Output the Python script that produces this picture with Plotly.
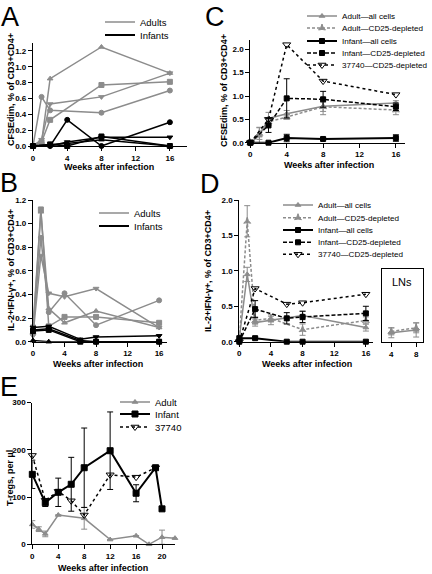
import plotly.graph_objects as go

W, H = 432, 574
GRAY = "#8c8c8c"
BLACK = "#000000"
FONT = "Liberation Sans"

# ---------------- Panel A data (CFSEdim) ----------------
a_adult_weeks = [0, 1, 2, 8, 16]
a_adult_1 = [0, 0.05, 0.85, 1.25, 0.92]
a_adult_2 = [0, 0.62, 0.45, 0.42, 0.70]
a_adult_3 = [0, 0.05, 0.33, 0.77, 0.81]
a_adult_4 = [0, 0.08, 0.53, 0.62, 0.92]
a_infant_weeks = [0, 2, 4, 8, 16]
a_infant_1 = [0, 0.0, 0.33, 0.0, 0.30]
a_infant_2 = [0, 0.02, 0.0, 0.12, 0.0]
a_infant_3 = [0, 0.0, 0.05, 0.11, 0.11]
a_infant_4 = [0, 0.02, 0.03, 0.08, 0.0]

# ---------------- Panel B data (IL-2+IFN-g+) ----------------
b_adult_weeks = [0, 1, 2, 4, 8, 16]
b_adult_1 = [0.10, 0.88, 0.25, 0.41, 0.14, 0.35]
b_adult_2 = [0.05, 0.73, 0.41, 0.38, 0.45, 0.12]
b_adult_3 = [0.12, 1.12, 0.13, 0.21, 0.21, 0.16]
b_adult_4 = [0.08, 1.10, 0.28, 0.16, 0.26, 0.12]
b_infant_weeks = [0, 2, 6, 8, 16]
b_infant_1 = [0.12, 0.13, 0.02, 0.04, 0.05]
b_infant_2 = [0.09, 0.10, 0.0, 0.0, 0.0]
b_infant_3 = [0.10, 0.11, 0.01, 0.0, 0.0]
b_infant_4 = [0.01, 0.0, 0.0, 0.0, 0.0]

# ---------------- Panel C data ----------------
c_adult_weeks = [0, 1, 2, 4, 8, 16]
c_adult_all = [0, 0.15, 0.52, 0.62, 0.78, 0.85]
c_adult_all_err = [0, 0.17, 0.13, 0.07, 0.18, 0.05]
c_adult_dep = [0, 0.20, 0.45, 0.55, 0.77, 0.70]
c_adult_dep_err = [0, 0.13, 0.08, 0.05, 0.1, 0.1]
c_infant_weeks = [0, 2, 4, 8, 16]
c_infant_all = [0, 0.0, 0.10, 0.08, 0.10]
c_infant_all_err = [0, 0, 0.08, 0.03, 0.07]
c_infant_dep = [0, 0.37, 0.95, 0.93, 0.77]
c_infant_dep_err = [0, 0.15, 0.42, 0.17, 0.08]
c_37740 = [0, 0.50, 2.10, 1.32, 1.03]

# ---------------- Panel D data ----------------
d_adult_weeks = [0, 1, 2, 4, 8, 16]
d_adult_all = [0.05, 0.95, 0.27, 0.30, 0.37, 0.20]
d_adult_all_err = [0, 0.1, 0.05, 0.06, 0.06, 0.05]
d_adult_dep = [0.05, 1.70, 0.30, 0.33, 0.17, 0.30]
d_adult_dep_err = [0, 0.22, 0.05, 0.05, 0.08, 0.05]
d_infant_weeks = [0, 2, 6, 8, 16]
d_infant_all = [0.05, 0.05, 0.0, 0.0, 0.0]
d_infant_all_err = [0, 0.02, 0, 0, 0]
d_infant_dep = [0.0, 0.46, 0.33, 0.35, 0.40]
d_infant_dep_err = [0, 0.12, 0.08, 0.08, 0.1]
d_37740 = [0.0, 0.75, 0.53, 0.55, 0.67]
# LN inset
d_ln_weeks = [4, 8]
d_ln_adult_all = [0.13, 0.17]
d_ln_adult_all_err = [0.07, 0.1]
d_ln_adult_dep = [0.15, 0.20]
d_ln_adult_dep_err = [0.05, 0.07]

# ---------------- Panel E data (T-regs per ul) ----------------
e_adult_weeks = [0, 1, 2, 4, 8, 12, 16, 18, 20, 22]
e_adult = [42, 32, 22, 62, 55, 10, 18, 0, 15, 13]
e_adult_err = [8, 5, 6, 0, 23, 0, 0, 0, 15, 0]
e_infant_weeks = [0, 2, 4, 6, 8, 12, 16, 19, 20]
e_infant = [148, 88, 110, 127, 162, 198, 108, 162, 75]
e_infant_err = [30, 8, 30, 57, 84, 82, 18, 0, 0]
e_37740_weeks = [0, 2, 4, 6, 8, 12, 16, 19]
e_37740 = [188, 93, 112, 92, 62, 147, 142, 162]

week_ticks = [0, 4, 8, 12, 16]
e_week_ticks = [0, 4, 8, 12, 16, 20]


def fx(px):
    return px / W


def fy(py):
    return 1 - py / H


fig = go.Figure()


def line(x, y, axis, color, symbol, dash="solid", width=1.5, size=5, err=None,
         name=None, legend=None, mode="lines+markers"):
    xa, ya = axis
    kw = {}
    if err is not None:
        kw["error_y"] = dict(type="data", array=err, visible=True, thickness=1,
                             width=3, color=color)
    fig.add_trace(go.Scatter(
        x=x, y=y, mode=mode, xaxis=xa, yaxis=ya,
        line=dict(color=color, width=width, dash=dash),
        marker=dict(symbol=symbol, size=size, color=color,
                    line=dict(color=color, width=1)),
        cliponaxis=False, name=name or "",
        showlegend=legend is not None, legend=legend or "legend", **kw))


def legend_only(name, color, legend, dash="solid", width=1.5):
    fig.add_trace(go.Scatter(x=[None], y=[None], mode="lines", name=name,
                             line=dict(color=color, width=width, dash=dash),
                             legend=legend, showlegend=True))


AX_A = ("x", "y")
AX_B = ("x2", "y2")
AX_C = ("x3", "y3")
AX_D = ("x4", "y4")
AX_L = ("x5", "y5")
AX_E = ("x6", "y6")

# A
for ys, sym in [(a_adult_1, "triangle-up"), (a_adult_2, "circle"),
                (a_adult_3, "square"), (a_adult_4, "triangle-down")]:
    line(a_adult_weeks, ys, AX_A, GRAY, sym)
for ys, sym in [(a_infant_1, "circle"), (a_infant_2, "square"),
                (a_infant_3, "triangle-down"), (a_infant_4, "triangle-up")]:
    line(a_infant_weeks, ys, AX_A, BLACK, sym)
legend_only("Adults", GRAY, "legend")
legend_only("Infants", BLACK, "legend2", width=2)

# B
for ys, sym in [(b_adult_1, "circle"), (b_adult_2, "triangle-down"),
                (b_adult_3, "square"), (b_adult_4, "triangle-up")]:
    line(b_adult_weeks, ys, AX_B, GRAY, sym)
for ys, sym in [(b_infant_1, "triangle-down"), (b_infant_2, "square"),
                (b_infant_3, "circle"), (b_infant_4, "triangle-up")]:
    line(b_infant_weeks, ys, AX_B, BLACK, sym)
legend_only("Adults", GRAY, "legend3")
legend_only("Infants", BLACK, "legend4", width=2)

# C
line(c_adult_weeks, c_adult_all, AX_C, GRAY, "triangle-up", err=c_adult_all_err,
     name="Adult\u2014all cells", legend="legend5")
line(c_adult_weeks, c_adult_dep, AX_C, GRAY, "star-triangle-up", dash="3px,2px",
     err=c_adult_dep_err, name="Adult\u2014CD25-depleted", legend="legend6")
line(c_infant_weeks, c_infant_all, AX_C, BLACK, "square", width=2,
     err=c_infant_all_err, name="Infant\u2014all cells", legend="legend7")
line(c_infant_weeks, c_infant_dep, AX_C, BLACK, "square", dash="4px,2px",
     err=c_infant_dep_err, name="Infant\u2014CD25-depleted", legend="legend8")
line(c_infant_weeks, c_37740, AX_C, BLACK, "triangle-down-open", dash="dot",
     size=7, name="37740\u2014CD25-depleted", legend="legend9")

# D
line(d_adult_weeks, d_adult_all, AX_D, GRAY, "triangle-up", err=d_adult_all_err,
     name="Adult\u2014all cells", legend="legend10")
line(d_adult_weeks, d_adult_dep, AX_D, GRAY, "star-triangle-up", dash="3px,2px",
     err=d_adult_dep_err, name="Adult\u2014CD25-depleted", legend="legend11")
line(d_infant_weeks, d_infant_all, AX_D, BLACK, "square", width=2,
     err=d_infant_all_err, name="Infant\u2014all cells", legend="legend12")
line(d_infant_weeks, d_infant_dep, AX_D, BLACK, "square", dash="4px,2px",
     err=d_infant_dep_err, name="Infant\u2014CD25-depleted", legend="legend13")
line(d_infant_weeks, d_37740, AX_D, BLACK, "triangle-down-open", dash="dot",
     size=7, name="37740\u2014CD25-depleted", legend="legend14")
line(d_ln_weeks, d_ln_adult_all, AX_L, GRAY, "triangle-up", err=d_ln_adult_all_err)
line(d_ln_weeks, d_ln_adult_dep, AX_L, GRAY, "star-triangle-up", dash="3px,2px",
     err=d_ln_adult_dep_err)

# E
line(e_adult_weeks, e_adult, AX_E, GRAY, "triangle-up", err=e_adult_err,
     name="Adult", legend="legend15")
line(e_infant_weeks, e_infant, AX_E, BLACK, "square", width=2, size=6,
     err=e_infant_err, name="Infant", legend="legend16")
line(e_37740_weeks, e_37740, AX_E, BLACK, "triangle-down-open", dash="dot",
     size=7, name="37740", legend="legend17")

tickfont = dict(family=FONT, size=8, color="black", weight="bold")


def axis(dom, rng, tickvals, fmt=None, **kw):
    d = dict(domain=dom, range=rng, tickvals=tickvals, ticks="outside",
             ticklen=4, tickwidth=1, tickcolor="black", showline=True,
             linecolor="black", linewidth=1.2, showgrid=False, zeroline=False,
             tickfont=tickfont, fixedrange=True, automargin=False)
    if fmt:
        d["tickformat"] = fmt
    d.update(kw)
    return d


layout = dict(
    width=W, height=H, margin=dict(l=0, r=0, t=0, b=0, autoexpand=False),
    paper_bgcolor="white", plot_bgcolor="white",
    font=dict(family=FONT, color="black"),
    xaxis=axis([fx(33), fx(187)], [0, 18], week_ticks, anchor="y"),
    yaxis=axis([fy(146), fy(43)], [0, 1.3], [0, 0.2, 0.4, 0.6, 0.8, 1.0, 1.2],
               ".1f", anchor="x"),
    xaxis2=axis([fx(33), fx(167)], [0, 17], week_ticks, anchor="y2"),
    yaxis2=axis([fy(341.7), fy(200)], [0, 1.2], [0, 0.2, 0.4, 0.6, 0.8, 1.0, 1.2],
                ".1f", anchor="x2"),
    xaxis3=axis([fx(250.3), fx(405)], [0, 17], week_ticks, anchor="y3"),
    yaxis3=axis([fy(142.7), fy(40)], [0, 2.2], [0, 0.5, 1.0, 1.5, 2.0], ".1f",
                anchor="x3"),
    xaxis4=axis([fx(239.3), fx(373)], [0, 16.9], week_ticks, anchor="y4"),
    yaxis4=axis([fy(341.7), fy(200)], [0, 2.0], [0, 0.5, 1.0, 1.5, 2.0], ".1f",
                anchor="x4"),
    xaxis5=axis([fx(382), fx(423)], [2.5, 9.1], [4, 8], anchor="y5", mirror=True),
    yaxis5=axis([fy(342), fy(269)], [0, 1.03], [], anchor="x5", mirror=True,
                ticks="", showticklabels=False),
    xaxis6=axis([fx(32.3), fx(175)], [0, 22], e_week_ticks, anchor="y6"),
    yaxis6=axis([fy(544.3), fy(402.5)], [0, 300], [0, 100, 200, 300], anchor="x6"),
)


def leg(text_x, cy, size):
    return dict(x=fx(text_x - 40), y=fy(cy), xanchor="left",
                yanchor="middle", bgcolor="rgba(0,0,0,0)", borderwidth=0,
                itemwidth=30, font=dict(family=FONT, size=size, color="black"))


legend_pos = [
    (140, 22, 9.5), (140, 35, 9.5),
    (134, 213, 9.5), (134, 226, 9.5),
    (342, 16, 8.1), (342, 28, 8.1), (342, 41, 8.1), (342, 53, 8.1), (342, 65, 8.1),
    (318, 205, 8.1), (318, 217.7, 8.1), (318, 230, 8.1), (318, 242.3, 8.1),
    (318, 254.3, 8.1),
    (155, 402, 9.5), (155, 414, 9.5), (155, 427, 9.5),
]
for i, (tx, cy, s) in enumerate(legend_pos):
    key = "legend" if i == 0 else f"legend{i + 1}"
    layout[key] = leg(tx, cy, s)

fig.update_layout(**layout)

annos = []
for letter, cx, cy in [("A", 10, 16.5), ("B", 9, 183), ("C", 214.5, 17),
                       ("D", 210, 184), ("E", 8.5, 387)]:
    annos.append(dict(text=letter, x=fx(cx), y=fy(cy), xref="paper", yref="paper",
                      xanchor="center", yanchor="middle", showarrow=False,
                      font=dict(family=FONT, size=27, color="black")))

title_font = dict(family=FONT, size=9, color="black", weight="bold")
for text, cx, cy in [("CFSEdim, % of CD3+CD4+", 11, 90),
                     ("IL-2+IFN-\u03b3+, % of CD3+CD4+", 11, 270),
                     ("CFSEdim, % of CD3+CD4+", 224, 91),
                     ("IL-2+IFN-\u03b3+, % of CD3+CD4+", 208, 271),
                     ("T-regs, per \u00b5l", 10, 478)]:
    annos.append(dict(text=text, x=fx(cx), y=fy(cy), xref="paper", yref="paper",
                      xanchor="center", yanchor="middle", textangle=-90,
                      showarrow=False, font=title_font))
for cx, cy in [(109, 166.5), (97.5, 363.5), (328.5, 164.5), (306.8, 363.5),
               (102.5, 568)]:
    annos.append(dict(text="Weeks after infection", x=fx(cx), y=fy(cy),
                      xref="paper", yref="paper", xanchor="center",
                      yanchor="middle", showarrow=False, font=title_font))
annos.append(dict(text="LNs", x=fx(402), y=fy(282), xref="paper", yref="paper",
                  xanchor="center", yanchor="middle", showarrow=False,
                  font=dict(family=FONT, size=11, color="black")))
fig.update_layout(annotations=annos)

fig.write_html("out.html", config={"displayModeBar": False},
               post_script="document.body.style.margin='0';"
                           "document.body.style.overflow='hidden';")
